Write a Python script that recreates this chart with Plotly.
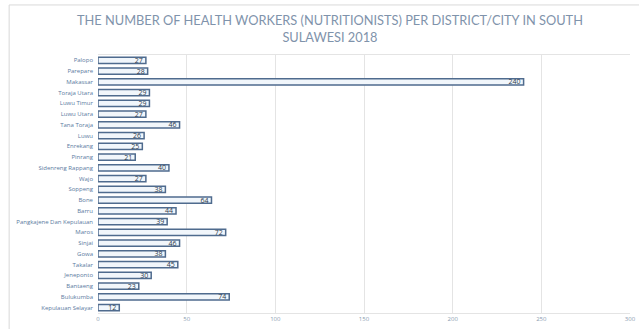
import plotly.graph_objects as go

districts = ["Palopo", "Parepare", "Makassar", "Toraja Utara", "Luwu Timur", "Luwu Utara",
             "Tana Toraja", "Luwu", "Enrekang", "Pinrang", "Sidenreng Rappang", "Wajo",
             "Soppeng", "Bone", "Barru", "Pangkajene Dan Kepulauan", "Maros", "Sinjai",
             "Gowa", "Takalar", "Jeneponto", "Bantaeng", "Bulukumba", "Kepulauan Selayar"]
nutritionists = [27, 28, 240, 29, 29, 27, 46, 26, 25, 21, 40, 27, 38, 64, 44, 39, 72, 46,
                 38, 45, 30, 23, 74, 12]
x_ticks = [0, 50, 100, 150, 200, 250, 300]

fig = go.Figure(go.Bar(
    y=districts, x=nutritionists, orientation="h",
    marker=dict(color="#f1f6fb", line=dict(color="#4f6b8e", width=1.5)),
    text=[str(v) for v in nutritionists], textposition="inside", insidetextanchor="end",
    constraintext="none", cliponaxis=False, textangle=0,
    textfont=dict(size=7, color="#2f3b4c", family="Open Sans"),
    width=0.6,
))

fig.update_layout(
    width=639, height=329,
    margin=dict(l=98, r=3, t=55, b=16),
    paper_bgcolor="white", plot_bgcolor="white",
    showlegend=False,
    annotations=[dict(text="THE NUMBER OF HEALTH WORKERS (NUTRITIONISTS) PER DISTRICT/CITY IN SOUTH<br>SULAWESI 2018",
                      xref="paper", yref="paper", x=0.437, y=1.101, xanchor="center", yanchor="middle",
                      showarrow=False, align="center",
                      font=dict(size=12.8, color="#7f93ab", family="Lato"))],
    xaxis=dict(range=[0, 300], tickvals=x_ticks, showgrid=True, gridcolor="#e4e4e4", gridwidth=1,
               zeroline=False, tickfont=dict(size=6, color="#8a9bb0", family="Open Sans"),
               showline=True, linecolor="#e4e4e4", mirror=True, ticks="", ticklen=0,
               ticklabeloverflow="allow"),
    yaxis=dict(autorange="reversed", showgrid=False, zeroline=False,
               tickfont=dict(size=6, color="#5a7aa0", family="Open Sans"), ticks="",
               ticklabelstandoff=4),
    shapes=[dict(type="rect", xref="paper", yref="paper", x0=-0.167, x1=1.2, y0=-0.3, y1=1.194,
                 line=dict(color="#d9d9d9", width=1), fillcolor="rgba(0,0,0,0)", layer="below")],
)

fig.write_html("out.html")
